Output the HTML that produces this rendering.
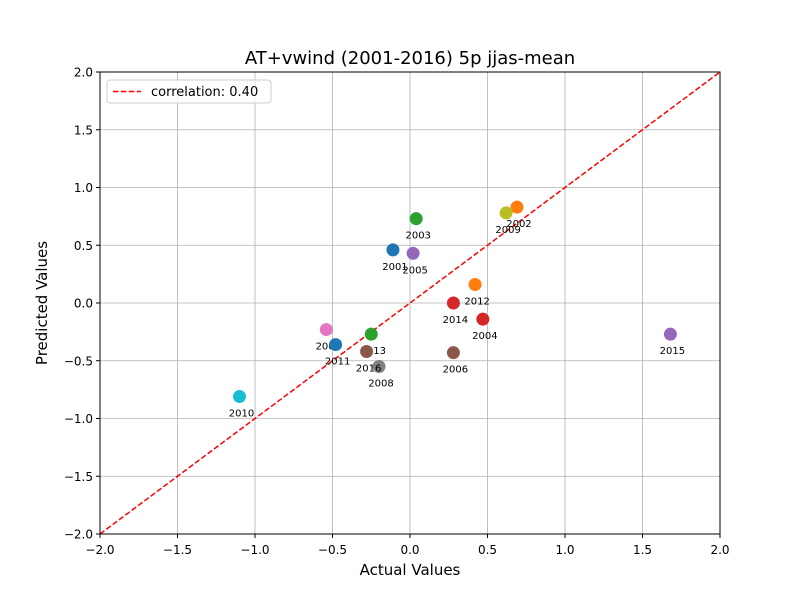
<!DOCTYPE html>
<html><head><meta charset="utf-8"><style>
body{margin:0;background:#fff;}
svg text{font-family:"DejaVu Sans","Liberation Sans",sans-serif;}
</style></head><body>
<svg id="chart" width="800" height="600" xmlns="http://www.w3.org/2000/svg">
<rect width="800" height="600" fill="#fff"/>
<g id="grid"></g>
<g id="ticks"></g>
<line id="diag" stroke="#ff0000" stroke-width="1.5" stroke-dasharray="5.5,2.4"/>
<g id="points"></g>
<rect x="100" y="72" width="620" height="462" fill="none" stroke="#000" stroke-width="1"/>
<text x="410" y="64" font-size="18" text-anchor="middle">AT+vwind (2001-2016) 5p jjas-mean</text>
<text x="410" y="575" font-size="15" text-anchor="middle">Actual Values</text>
<text x="0" y="0" font-size="15" text-anchor="middle" transform="translate(47,303) rotate(-90)">Predicted Values</text>
<g>
<rect x="107" y="80" width="164" height="23" rx="3" fill="#fff" fill-opacity="0.8" stroke="#ccc"/>
<line x1="113" y1="91.5" x2="141" y2="91.5" stroke="#ff0000" stroke-width="1.5" stroke-dasharray="5.5,2.4"/>
<text x="151" y="96" font-size="13">correlation: 0.40</text>
</g>
</svg>
<script>
const years=["2001","2002","2003","2004","2005","2006","2007","2008","2009","2010","2011","2012","2013","2014","2015","2016"];
const actual=[-0.11,0.69,0.04,0.47,0.02,0.28,-0.54,-0.20,0.62,-1.10,-0.48,0.42,-0.25,0.28,1.68,-0.28];
const predicted=[0.46,0.83,0.73,-0.14,0.43,-0.43,-0.23,-0.55,0.78,-0.81,-0.36,0.16,-0.27,0.00,-0.27,-0.42];
const xTicks=[-2.0,-1.5,-1.0,-0.5,0.0,0.5,1.0,1.5,2.0];
const yTicks=[-2.0,-1.5,-1.0,-0.5,0.0,0.5,1.0,1.5,2.0];
const colors=["#1f77b4","#ff7f0e","#2ca02c","#d62728","#9467bd","#8c564b","#e377c2","#7f7f7f","#bcbd22","#17becf"];
const X=v=>100+(v+2)/4*620, Y=v=>534-(v+2)/4*462;
const NS="http://www.w3.org/2000/svg";
function mk(t,a,p){const e=document.createElementNS(NS,t);for(const k in a)e.setAttribute(k,a[k]);p.appendChild(e);return e;}
const grid=document.getElementById('grid'),ticks=document.getElementById('ticks');
const fmt=v=>(v<0?"\u2212":"")+Math.abs(v).toFixed(1);
xTicks.forEach(v=>{
  const g=mk('line',{x1:X(v),x2:X(v),y1:72,y2:534,stroke:'#b0b0b0','stroke-width':0.8},grid);
  
  
  mk('line',{x1:X(v),x2:X(v),y1:534,y2:538,stroke:'#000'},ticks);
  const t=mk('text',{x:X(v),y:554,'font-size':12,'text-anchor':'middle'},ticks);
  t.textContent=fmt(v);
  
  
});
yTicks.forEach(v=>{
  const g=mk('line',{x1:100,x2:720,y1:Y(v),y2:Y(v),stroke:'#b0b0b0','stroke-width':0.8},grid);
  
  
  mk('line',{x1:96,x2:100,y1:Y(v),y2:Y(v),stroke:'#000'},ticks);
  const t=mk('text',{x:93,y:Y(v)+4.5,'font-size':12,'text-anchor':'end'},ticks);
  t.textContent=fmt(v);
  
  
});
const d=document.getElementById('diag');
d.setAttribute('x1',X(-2));d.setAttribute('y1',Y(-2));d.setAttribute('x2',X(2));d.setAttribute('y2',Y(2));
const pts=document.getElementById('points');
years.forEach((yr,i)=>{
  const c=mk('circle',{cx:X(actual[i]),cy:Y(predicted[i]),r:6.5,fill:colors[i%10]},pts);
  
  
  const t=mk('text',{x:X(actual[i])+2,y:Y(predicted[i])+20,'font-size':10,'text-anchor':'middle'},pts);
  t.textContent=yr;
  
  
});
</script>
</body></html>
